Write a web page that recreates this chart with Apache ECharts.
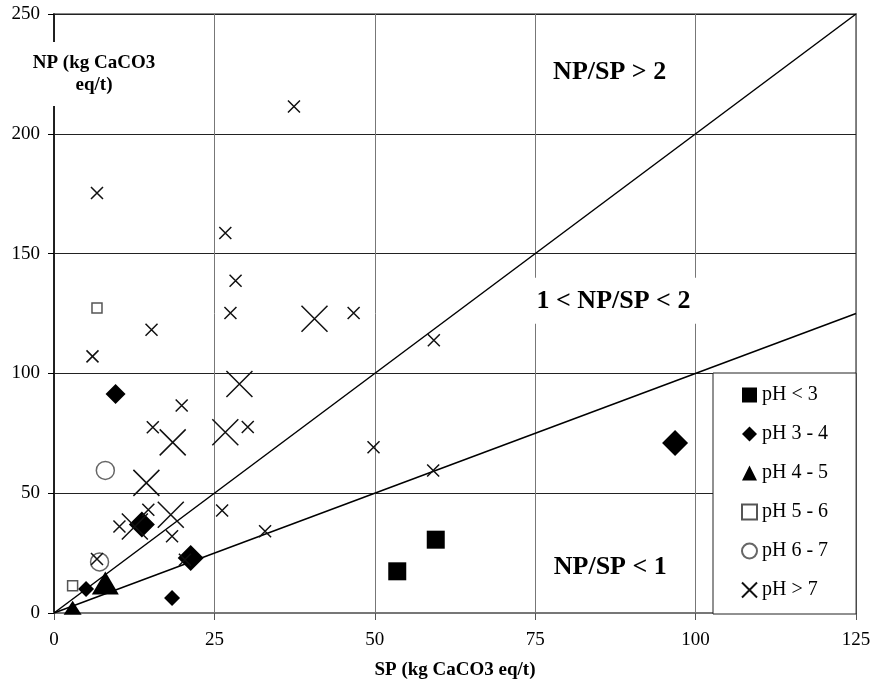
<!DOCTYPE html>
<html>
<head>
<meta charset="utf-8">
<title>NP vs SP</title>
<script src="https://cdn.jsdelivr.net/npm/echarts@6/dist/echarts.min.js"></script>
<style>
  html, body { margin: 0; padding: 0; background: #fff; }
  #chart { width: 874px; height: 685px; }
</style>
</head>
<body>
<div id="chart"></div>
<script>
// [SP, NP] pairs, kg CaCO3 eq/t, grouped by pH class (and marker size)
const phBelow3 = [[53.5, 17.4], [59.5, 30.6]]
const ph3to4Small = [[5.0, 10.0], [18.4, 6.3]]
const ph3to4Mid = [[9.6, 91.4]]
const ph3to4Large = [[13.7, 36.9], [21.3, 23.0], [96.8, 71.0]]
const ph4to5Small = [[2.9, 2.2]]
const ph4to5Large = [[8.0, 12.5]]
const ph5to6 = [[6.7, 127.3], [2.9, 11.4]]
const ph6to7 = [[8.0, 59.5], [7.1, 21.3]]
const phAbove7Small = [
  [6.7, 175.3], [26.7, 158.6], [37.4, 211.4], [6.0, 107.1], [15.2, 118.2],
  [28.3, 138.7], [27.5, 125.2], [19.9, 86.6], [15.4, 77.5], [30.2, 77.6],
  [14.7, 43.1], [10.2, 36.1], [18.4, 32.0], [6.7, 22.5], [20.4, 22.2],
  [26.2, 42.8], [32.9, 34.1], [46.7, 125.2], [59.2, 113.8], [49.8, 69.2],
  [59.1, 59.5]
]
const phAbove7Large = [
  [28.9, 95.6], [18.5, 71.2], [26.7, 75.4], [14.4, 54.3], [18.2, 41.0],
  [12.6, 36.1], [40.6, 122.8]
]
const ratios = [2, 1]
const ratioLabels = ['NP/SP > 2', '1 < NP/SP < 2', 'NP/SP < 1']
const ratioLabelPos = [[86.6, 225.5], [87.2, 130.3], [86.7, 18.9]]
const xRange = { min: 0, max: 125, interval: 25 }
const yRange = { min: 0, max: 250, interval: 50 }
const legendNames = ['pH < 3', 'pH 3 - 4', 'pH 4 - 5', 'pH 5 - 6', 'pH 6 - 7', 'pH > 7']

const serif = 'Liberation Serif'
const cross = 'path://M0,0L10,10M10,0L0,10'

const chart = echarts.init(document.getElementById('chart'))

const filled = { color: '#000', opacity: 1 }
const crossStyle = { color: 'rgba(0,0,0,0)', borderColor: '#111', borderWidth: 1.5, opacity: 1 }

const scatter = (name, data, symbol, size, itemStyle) => ({
  name, type: 'scatter', data, symbol, symbolSize: size, itemStyle, z: 3
})

const option = {
  animation: false,
  backgroundColor: '#fff',
  grid: {
    left: 54, right: 18, top: 14, bottom: 72,
    show: true, borderColor: '#888', borderWidth: 2, backgroundColor: 'transparent'
  },
  xAxis: {
    type: 'value',
    min: xRange.min, max: xRange.max, interval: xRange.interval,
    name: 'SP (kg CaCO3 eq/t)',
    nameLocation: 'middle',
    nameGap: 48,
    nameTextStyle: { fontFamily: serif, fontWeight: 'bold', fontSize: 19, color: '#000' },
    axisLine: { show: true, lineStyle: { color: '#777', width: 2 } },
    axisTick: { show: true, length: 7, lineStyle: { color: '#555' } },
    axisLabel: { fontFamily: serif, fontSize: 19, color: '#000', margin: 18 },
    splitLine: { show: true, lineStyle: { color: '#777', width: 1 } }
  },
  yAxis: {
    type: 'value',
    min: yRange.min, max: yRange.max, interval: yRange.interval,
    axisLine: { show: true, lineStyle: { color: '#000', width: 1.5 } },
    axisTick: { show: true, length: 6, lineStyle: { color: '#000' } },
    axisLabel: { fontFamily: serif, fontSize: 19, color: '#000', margin: 14 },
    splitLine: { show: true, lineStyle: { color: '#222', width: 1 } }
  },
  legend: {
    orient: 'vertical',
    left: 713, top: 373,
    data: legendNames,
    backgroundColor: '#fff',
    borderColor: '#222', borderWidth: 1,
    padding: [12, 28, 14, 28],
    itemGap: 19,
    itemWidth: 15, itemHeight: 15,
    textStyle: { fontFamily: serif, fontSize: 20, color: '#000' }
  },
  graphic: [{
    type: 'text',
    z: 100,
    style: {
      text: 'NP (kg CaCO3\neq/t)',
      x: 94, y: 74,
      align: 'center', verticalAlign: 'middle',
      font: 'bold 19px "Liberation Serif"',
      lineHeight: 22,
      fill: '#000',
      backgroundColor: '#fff',
      padding: [10, 4]
    }
  }],
  series: [
    ...ratios.map(r => ({
      name: 'NP/SP = ' + r,
      type: 'line',
      data: [[xRange.min, r * xRange.min], [xRange.max, r * xRange.max]],
      symbol: 'none',
      silent: true,
      z: 2,
      lineStyle: { color: '#000', width: 1.5, opacity: 1 }
    })),
    scatter('pH < 3', phBelow3, 'rect', 18, filled),
    scatter('pH 3 - 4', ph3to4Small, 'diamond', 16, filled),
    scatter('pH 3 - 4', ph3to4Mid, 'diamond', 20, filled),
    scatter('pH 3 - 4', ph3to4Large, 'diamond', 26, filled),
    scatter('pH 4 - 5', ph4to5Small, 'triangle', [18, 14], filled),
    scatter('pH 4 - 5', ph4to5Large, 'triangle', [27, 23], filled),
    scatter('pH 5 - 6', ph5to6, 'rect', 10, { color: '#fff', borderColor: '#555', borderWidth: 1.5, opacity: 1 }),
    scatter('pH 6 - 7', ph6to7, 'circle', 18, { color: 'rgba(255,255,255,0)', borderColor: '#666', borderWidth: 1.5, opacity: 1 }),
    scatter('pH > 7', phAbove7Small, cross, 12, crossStyle),
    scatter('pH > 7', phAbove7Large, cross, 26, crossStyle),
    {
      name: 'ratio labels',
      type: 'scatter',
      silent: true,
      symbolSize: 1,
      itemStyle: { color: 'rgba(0,0,0,0)', opacity: 1 },
      z: 4,
      data: ratioLabels.map((t, i) => ({ value: ratioLabelPos[i], label: { formatter: t } })),
      label: {
        show: true,
        position: 'inside',
        fontFamily: serif,
        fontWeight: 'bold',
        fontSize: 26,
        color: '#000',
        opacity: 1,
        backgroundColor: '#fff',
        padding: [10, 7]
      }
    }
  ]
}

chart.setOption(option)
</script>
</body>
</html>
